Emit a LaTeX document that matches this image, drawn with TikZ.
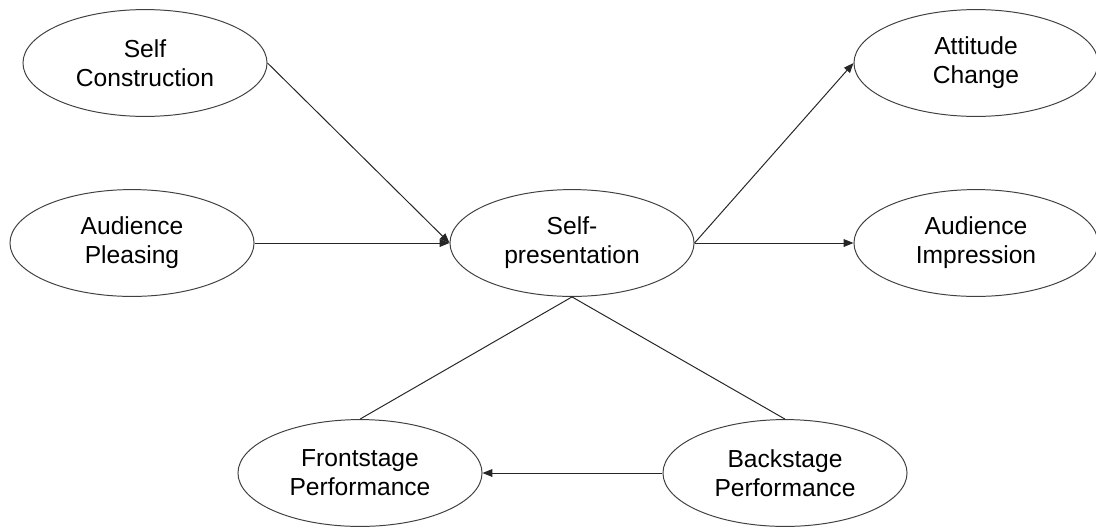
\documentclass[tikz,border=0pt]{standalone}
\usepackage{fontspec}
\setmainfont{Liberation Sans}
\usetikzlibrary{shapes.geometric,arrows.meta}

\tikzset{
	oval/.style={ellipse, draw=black!75, line width=0.7pt, minimum width=6.1cm, minimum height=2.67cm,
		align=center, font=\fontsize{17.5}{20.6}\selectfont},
	link/.style={draw=black!85, line width=0.7pt},
	flow/.style={link, -{Triangle[length=7pt,width=5.5pt]}}
}

\begin{document}
\begin{tikzpicture}[x=0.025cm,y=-0.025cm]
	\useasboundingbox (0,0) rectangle (1096,527);
	% Antecedents
	\node[oval] (sc) at (145,63) {Self\\Construction};
	\node[oval] (ap) at (132,243) {Audience\\Pleasing};
	
	% Centre
	\node[oval] (sp) at (572,243) {Self-\\presentation};
	
	% Outcomes
	\node[oval] (ac) at (976,63) {Attitude\\Change};
	\node[oval] (ai) at (976,243) {Audience\\Impression};
	
	% Stages
	\node[oval] (fp) at (360,473) {Frontstage\\Performance};
	\node[oval] (bp) at (785,473) {Backstage\\Performance};
	
	% Connections
	\draw[flow] (sc.east) -- (sp.west);
	\draw[flow] (ap.east) -- (sp.west);
	\draw[flow] (sp.east) -- (ac.west);
	\draw[flow] (sp.east) -- (ai.west);
	\draw[link] (sp.south) -- (fp.north);
	\draw[link] (sp.south) -- (bp.north);
	\draw[flow] (bp.west) -- (fp.east);
\end{tikzpicture}
\end{document}
